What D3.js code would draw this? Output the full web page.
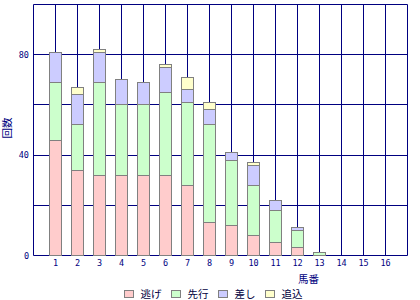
<!DOCTYPE html>
<html><head><meta charset="utf-8">
<script src="https://cdn.jsdelivr.net/npm/d3@7"></script>
<style>body{margin:0;background:#fff;} svg{display:block;}</style>
</head><body>
<svg id="c" width="420" height="300"></svg>
<script>
const categories = ["1","2","3","4","5","6","7","8","9","10","11","12","13","14","15","16"];
const seriesNames = ["逃げ","先行","差し","追込"];
const nige   = [46,34,32,32,32,32,28,13,12,8,5,3,0,0,0,0];
const senko  = [23,18,37,28,28,33,33,39,26,20,13,7,1,0,0,0];
const sashi  = [12,12,12,10,9,10,5,6,3,8,4,1,0,0,0,0];
const oikomi = [0,3,1,0,0,1,5,3,0,1,0,0,0,0,0,0];
const yTicks = [0,40,80];
const yGrid = [20,40,60,80,100];
const colors = ["#FFCCCC","#CCFFCC","#CCCCFF","#FFFFCC"];

const rows = categories.map((c,i)=>({cat:c,"逃げ":nige[i],"先行":senko[i],"差し":sashi[i],"追込":oikomi[i]}));
const stacked = d3.stack().keys(seriesNames)(rows);

const svg = d3.select("#c");
const x = d3.scalePoint().domain(categories).range([33.5,407.5]).padding(1);
const y = d3.scaleLinear().domain([0,100]).range([255.5,4.5]);
const snap = v => Math.round(v - 0.5) + 0.5;
const navy = "#000080";

svg.append("g").selectAll("line").data(yGrid).join("line")
  .attr("x1",33.5).attr("x2",407.5)
  .attr("y1",d=>snap(y(d))).attr("y2",d=>snap(y(d)))
  .attr("stroke",navy).attr("stroke-width",1);
svg.append("g").selectAll("line").data(categories).join("line")
  .attr("x1",d=>x(d)).attr("x2",d=>x(d))
  .attr("y1",y(100)).attr("y2",y(0))
  .attr("stroke",navy).attr("stroke-width",1);
svg.append("line").attr("x1",33.5).attr("x2",33.5).attr("y1",y(100)).attr("y2",y(0)).attr("stroke",navy);
svg.append("line").attr("x1",407.5).attr("x2",407.5).attr("y1",y(100)).attr("y2",y(0)).attr("stroke",navy);
svg.append("line").attr("x1",33.5).attr("x2",407.5).attr("y1",y(0)).attr("y2",y(0)).attr("stroke",navy);

const bw = 12;
svg.append("g").selectAll("g").data(stacked).join("g")
  .attr("fill",(d,i)=>colors[i])
  .selectAll("rect").data(d=>d.filter(s=>s[1]-s[0]>0)).join("rect")
  .attr("x",d=>x(d.data.cat)-bw/2)
  .attr("width",bw)
  .attr("y",d=>snap(y(d[1])))
  .attr("height",d=>snap(y(d[0]))-snap(y(d[1])))
  .attr("stroke","#808080").attr("stroke-width",1);

svg.append("g").selectAll("text").data(yTicks).join("text")
  .attr("x",29).attr("y",d=>y(d)+3)
  .attr("text-anchor","end")
  .attr("font-family","DejaVu Sans Mono").attr("font-size",8.5)
  .attr("fill",navy).text(d=>d);
svg.append("g").selectAll("text").data(categories).join("text")
  .attr("x",d=>x(d)).attr("y",266)
  .attr("text-anchor","middle")
  .attr("font-family","DejaVu Sans Mono").attr("font-size",8.5)
  .attr("fill",navy).text(d=>d);

svg.append("text").attr("transform","translate(10.5,128) rotate(-90)")
  .attr("text-anchor","middle").attr("font-family","Noto Sans CJK JP").attr("font-size",10.5)
  .attr("fill",navy).text("回数");
svg.append("text").attr("x",319).attr("y",283)
  .attr("text-anchor","end").attr("font-family","Noto Sans CJK JP").attr("font-size",10.5)
  .attr("fill",navy).text("馬番");

const lg = svg.append("g");
let lx = 124.5;
seriesNames.forEach((n,i)=>{
  lg.append("rect").attr("x",lx).attr("y",290.5).attr("width",9).attr("height",7)
    .attr("fill",colors[i]).attr("stroke","#808080");
  const t = lg.append("text").attr("x",lx+16).attr("y",298)
    .attr("font-family","Noto Sans CJK JP").attr("font-size",10.5).attr("fill","#000040").text(n);
  lx += 16 + t.node().getComputedTextLength() + 10;
});
</script>
</body></html>
